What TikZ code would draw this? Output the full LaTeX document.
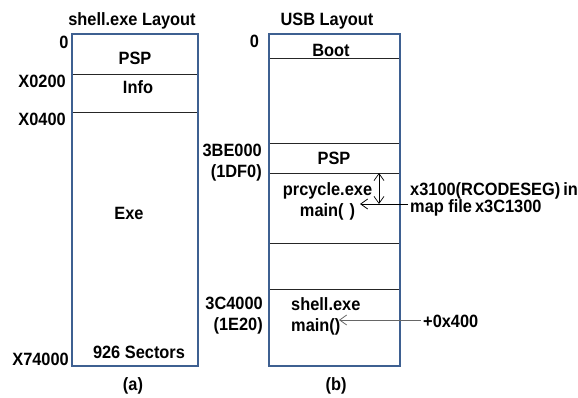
\documentclass[tikz,border=0pt]{standalone}
\usepackage{fontspec}
\setmainfont{Liberation Sans}[FakeStretch=0.92]
\usetikzlibrary{arrows.meta}

\definecolor{framecol}{RGB}{62,96,145}

\begin{document}
\begin{tikzpicture}[
  x=1pt, y=-1pt,
  font=\fontsize{17.8}{21}\selectfont\bfseries,
  seg/.style={draw=black!85, line width=0.9pt, anchor=north west,
              inner sep=0pt, outer sep=0pt},
  frame/.style={draw=framecol, line width=2.8pt},
  lbl/.style={inner sep=0pt, anchor=base},
  addr/.style={inner sep=0pt, anchor=base east},
  tip/.style={-{Straight Barb[length=7pt,width=10pt]}, line width=0.8pt}
]
\useasboundingbox (0,0) rectangle (578,398);

% shell.exe layout
\node[seg, minimum width=126pt, minimum height=40pt] (lpsp) at (72,34) {};
\node[seg, minimum width=126pt, minimum height=38pt] (linfo) at (lpsp.south west) {};
\node[seg, minimum width=126pt, minimum height=254pt] (lexe) at (linfo.south west) {};
\draw[frame] (lpsp.north west) rectangle (lexe.south east);

\node[lbl] (ltitle) at (132,26) {shell.exe Layout};
\node[lbl] (lpsptxt) at (135,65) {PSP};
\node[lbl] (linfotxt) at (138,94) {Info};
\node[lbl] (lexetxt) at (129,219) {Exe};
\node[lbl] (lsect) at (139,358) {926 Sectors};
\node[lbl] (lcap) at (133,390) {(a)};
\node[lbl] (lzero) at (64,49) {0};
\node[addr] (la200) at (66,88) {X0200};
\node[addr] (la400) at (66,126) {X0400};
\node[addr] (laend) at (69,365) {X74000};

% USB layout
\node[seg, minimum width=131pt, minimum height=24pt] (rboot) at (269,34) {};
\node[seg, minimum width=131pt, minimum height=85pt] (rgap) at (rboot.south west) {};
\node[seg, minimum width=131pt, minimum height=30pt] (rpsp) at (rgap.south west) {};
\node[seg, minimum width=131pt, minimum height=70pt] (rprc) at (rpsp.south west) {};
\node[seg, minimum width=131pt, minimum height=46pt] (rgap2) at (rprc.south west) {};
\node[seg, minimum width=131pt, minimum height=77pt] (rshell) at (rgap2.south west) {};
\draw[frame] (rboot.north west) rectangle (rshell.south east);

\node[lbl] (rtitle) at (327,26) {USB Layout};
\node[lbl] (rboottxt) at (331,57) {Boot};
\node[lbl] (rpsptxt) at (334,165) {PSP};
\node[inner sep=0pt, anchor=north, align=center] (prcmain) at (327.5,182)
  {prcycle.exe\\main(\,\,)};
\node[inner sep=0pt, anchor=north west, align=left] (shellmain) at (291,297)
  {shell.exe\\main()};
\node[lbl] (rcap) at (336,390) {(b)};
\node[lbl] (rzero) at (254.5,48) {0};
\node[inner sep=0pt, anchor=north east, align=right] (ra1df0) at (262,144)
  {3BE000\\(1DF0)};
\node[inner sep=0pt, anchor=north east, align=right] (ra1e20) at (263,297)
  {3C4000\\(1E20)};

% offsets
\node[inner sep=0pt, anchor=north west, align=left,
      font=\fontsize{17.8}{17}\selectfont\bfseries] (mapfile) at (410,182)
  {x3100(RCODESEG)\,in\\map file\,x3C1300};
\node[inner sep=0pt, anchor=base west] (plus400) at (423,327) {+0x400};

\coordinate (rcode) at (379,204);
\coordinate (rcodetail) at (408,204);
\coordinate (rcodehead) at (360,204);
\coordinate (shelltail) at (421,320);
\coordinate (shellhead) at (339,320);

\draw[{Straight Barb[length=7pt,width=10pt]}-{Straight Barb[length=7pt,width=10pt]},
      line width=0.7pt] (rcode |- rprc.north) -- (rcode);
\draw[tip] (rcodetail) -- (rcodehead);
\draw[tip, draw=black!60] (shelltail) -- (shellhead);
\end{tikzpicture}
\end{document}
